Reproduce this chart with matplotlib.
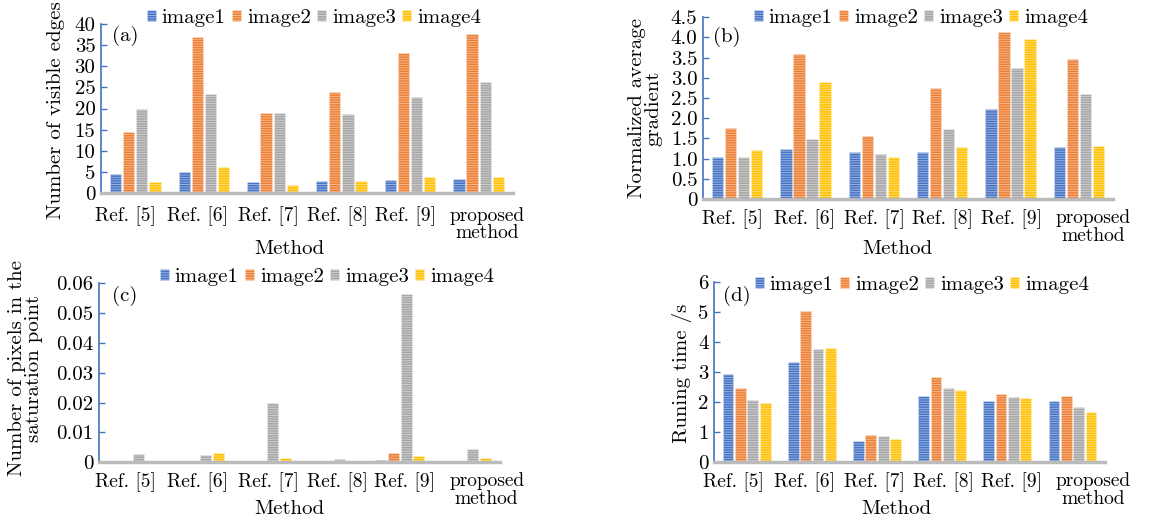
import matplotlib
matplotlib.use("Agg")
import matplotlib.pyplot as plt
import matplotlib.transforms as mtransforms
import numpy as np

plt.rcParams['font.family'] = ['cmr10', 'DejaVu Serif']
plt.rcParams['axes.formatter.use_mathtext'] = True
plt.rcParams['hatch.linewidth'] = 0.7

methods = ["Ref. [5]", "Ref. [6]", "Ref. [7]", "Ref. [8]", "Ref. [9]", "proposed\nmethod"]
series = ["image1", "image2", "image3", "image4"]
colors = ["#4472C4", "#ED7D31", "#A5A5A5", "#FFC000"]

# (a) number of visible edges
edges_img1 = [4.4, 4.9, 2.6, 2.9, 3.0, 3.3]
edges_img2 = [14.4, 36.9, 18.9, 23.9, 33.1, 37.6]
edges_img3 = [19.8, 23.5, 18.9, 18.8, 22.7, 26.4]
edges_img4 = [2.6, 6.2, 1.8, 2.8, 3.7, 3.7]

# (b) normalized average gradient
grad_img1 = [1.04, 1.23, 1.16, 1.17, 2.22, 1.29]
grad_img2 = [1.76, 3.58, 1.55, 2.74, 4.14, 3.47]
grad_img3 = [1.03, 1.49, 1.11, 1.73, 3.25, 2.59]
grad_img4 = [1.21, 2.91, 1.03, 1.29, 3.97, 1.31]

# (c) number of pixels in the saturation point
sat_img1 = [0.0, 0.0, 0.0, 0.0, 0.0007, 0.0]
sat_img2 = [0.0, 0.0, 0.0, 0.0, 0.0031, 0.0]
sat_img3 = [0.0027, 0.0025, 0.0200, 0.0010, 0.0565, 0.0046]
sat_img4 = [0.0, 0.0031, 0.0015, 0.0, 0.0022, 0.0015]

# (d) running time
time_img1 = [2.94, 3.34, 0.71, 2.20, 2.04, 2.03]
time_img2 = [2.47, 5.04, 0.92, 2.83, 2.28, 2.20]
time_img3 = [2.09, 3.78, 0.87, 2.49, 2.17, 1.83]
time_img4 = [1.96, 3.81, 0.76, 2.41, 2.14, 1.69]

panels = [
    dict(rect=[0.0878, 0.6357, 0.3583, 0.3183], data=[edges_img1, edges_img2, edges_img3, edges_img4],
         ylim=40, ticks=[0, 5, 10, 15, 20, 25, 30, 35, 40],
         ticklabels=["0", "5", "10", "15", "20", "25", "30", "35", "40"],
         ylabel="Number of visible edges", ylab_xy=(-0.088, 0.49),
         tag="(a)", tag_xy=(0.027, 0.99), leg=(314, 18), xpad=10,
         xlab_xy=(0.456, -0.28), lab_dx=[-9.5, -6, -4.5, -4, -5, 8]),
    dict(rect=[0.6113, 0.6238, 0.3565, 0.3435], data=[grad_img1, grad_img2, grad_img3, grad_img4],
         ylim=4.5, ticks=[0, 0.5, 1, 1.5, 2, 2.5, 3, 3.5, 4, 4.5],
         ticklabels=["0", "0.5", "1.0", "1.5", "2.0", "2.5", "3.0", "3.5", "4.0", "4.5"],
         ylabel="Normalized average\ngradient", ylab_xy=(-0.098, 0.5),
         tag="(b)", tag_xy=(0.024, 0.95), leg=(921, 18), xpad=7,
         xlab_xy=(0.473, -0.225), lab_dx=[-5, -1, 0.5, 0.5, 1, 14]),
    dict(rect=[0.0861, 0.1261, 0.3487, 0.3384], data=[sat_img1, sat_img2, sat_img3, sat_img4],
         ylim=0.06, ticks=[0, 0.01, 0.02, 0.03, 0.04, 0.05, 0.06],
         ticklabels=["0", "0.01", "0.02", "0.03", "0.04", "0.05", "0.06"],
         ylabel="Number of pixels in the\nsaturation point", ylab_xy=(-0.14, 0.525),
         tag="(c)", tag_xy=(0.032, 0.985), leg=(327, 277), xpad=7,
         xlab_xy=(0.474, -0.21), lab_dx=[-6.6, -1.5, 2, 4.6, 5, 20]),
    dict(rect=[0.6209, 0.1261, 0.3400, 0.3403], data=[time_img1, time_img2, time_img3, time_img4],
         ylim=6, ticks=[0, 1, 2, 3, 4, 5, 6],
         ticklabels=["0", "1", "2", "3", "4", "5", "6"],
         ylabel="Runing time /s", ylab_xy=(-0.056, 0.493),
         tag="(d)", tag_xy=(0.023, 0.98), leg=(922, 285), xpad=7,
         xlab_xy=(0.465, -0.21), lab_dx=[-13.6, -7.3, -2.4, 1, 4.5, 21]),
]

fig = plt.figure(figsize=(11.5, 5.29), dpi=100)
x = np.arange(len(methods))
step, width = 0.19, 0.165

for p in panels:
    ax = fig.add_axes(p["rect"])
    handles = []
    for i, (vals, c) in enumerate(zip(p["data"], colors)):
        b = ax.bar(x + (i - 1.5) * step, vals, width, color=c,
                   edgecolor=(1, 1, 1, 0.45), linewidth=0.4, hatch="-------",
                   label=series[i])
        handles.append(b)
    ax.set_xlim(-0.5, len(methods) - 0.5)
    ax.set_ylim(0, p["ylim"])
    ax.set_yticks(p["ticks"])
    ax.set_yticklabels(p["ticklabels"])
    ax.set_xticks(x)
    ax.set_xticklabels(methods, linespacing=1.0)
    ax.tick_params(axis="x", length=0, labelsize=14, pad=p["xpad"])
    ax.tick_params(axis="y", direction="in", length=4, width=1, color="#4472C4",
                   labelsize=15, pad=4)
    # Excel-style packing of the crowded category labels
    for lab, dx in zip(ax.get_xticklabels(), p["lab_dx"]):
        off = mtransforms.ScaledTranslation(dx / 100, 0, fig.dpi_scale_trans)
        lab.set_transform(lab.get_transform() + off)
    for s in ["top", "right"]:
        ax.spines[s].set_visible(False)
    ax.spines["left"].set_color("#4472C4")
    ax.spines["left"].set_linewidth(1.2)
    ax.spines["bottom"].set_color("#BBBBBB")
    ax.spines["bottom"].set_linewidth(2.5)
    ax.set_ylabel(p["ylabel"], fontsize=15, linespacing=0.9)
    ax.yaxis.set_label_coords(*p["ylab_xy"])
    ax.set_xlabel("Method", fontsize=15)
    ax.xaxis.set_label_coords(*p["xlab_xy"])
    ax.text(p["tag_xy"][0], p["tag_xy"][1], p["tag"], transform=ax.transAxes,
            fontsize=15, va="top", ha="left")
    lx, ly = p["leg"]
    ax.legend(handles=handles, loc="center", bbox_to_anchor=(lx / 1150, 1 - ly / 529),
              bbox_transform=fig.transFigure, ncol=4, frameon=False, fontsize=15,
              handlelength=0.42, handleheight=0.42, handletextpad=0.3,
              columnspacing=0.3, borderpad=0)

fig.savefig("out.png", dpi=100)
